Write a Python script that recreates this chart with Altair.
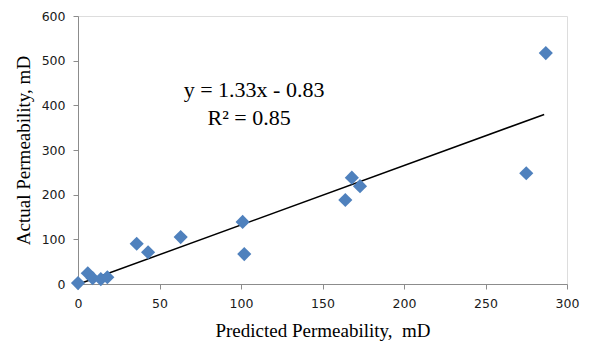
import altair as alt
import pandas as pd

predicted = [0, 6, 9, 14, 18, 36, 43, 63, 101, 102, 164, 168, 173, 275, 287]
actual = [2, 24, 13, 11, 15, 90, 71, 105, 139, 67, 188, 238, 219, 248, 517]

trend_x = [0, 286]
trend_y = [-0.83, 379.6]

label_text = ["y = 1.33x - 0.83", "R² = 0.85"]
label_x = [108, 105]
label_y = [434, 372]

pts = pd.DataFrame({"x": predicted, "y": actual})
trend = pd.DataFrame({"x": trend_x, "y": trend_y})
labels = pd.DataFrame({"x": label_x, "y": label_y, "t": label_text})

xs = alt.Scale(domain=[0, 300], nice=False)
ys = alt.Scale(domain=[0, 600], nice=False)

x_axis = alt.Axis(
    title="Predicted Permeability,\u00a0 mD", values=[0, 50, 100, 150, 200, 250, 300],
    grid=False, domainColor="#8c8c8c", tickColor="#8c8c8c", tickSize=5,
    labelFont="DejaVu Sans", labelFontSize=12.5, labelColor="#1a1a1a", labelPadding=8,
    labelFlush=False, labelOverlap=False,
    titleFont="Liberation Serif", titleFontSize=19, titleFontWeight="normal",
    titleColor="#000000", titlePadding=12,
)
y_axis = alt.Axis(
    title="Actual Permeability, mD", values=[0, 100, 200, 300, 400, 500, 600],
    grid=False, domainColor="#8c8c8c", tickColor="#8c8c8c", tickSize=5,
    labelFont="DejaVu Sans", labelFontSize=12.5, labelColor="#1a1a1a", labelPadding=8,
    labelFlush=False, labelOverlap=False,
    titleFont="Liberation Serif", titleFontSize=19, titleFontWeight="normal",
    titleColor="#000000", titlePadding=8,
)

points = alt.Chart(pts).mark_point(
    shape="diamond", filled=True, size=200, color="#4F81BD", opacity=1
).encode(
    x=alt.X("x:Q", scale=xs, axis=x_axis),
    y=alt.Y("y:Q", scale=ys, axis=y_axis),
)

line = alt.Chart(trend).mark_line(color="#000000", strokeWidth=1.5, clip=True).encode(
    x=alt.X("x:Q", scale=xs),
    y=alt.Y("y:Q", scale=ys),
)

text = alt.Chart(labels).mark_text(
    font="Liberation Serif", fontSize=22, color="#000000", align="center", baseline="middle"
).encode(
    x=alt.X("x:Q", scale=xs),
    y=alt.Y("y:Q", scale=ys),
    text="t:N",
)

chart = alt.layer(line, points, text).properties(
    width=489, height=268,
    autosize=alt.AutoSizeParams(type="none"),
    padding={"left": 70, "top": 8, "right": 16, "bottom": 60},
).configure_view(stroke=None).configure(background="#ffffff")

chart.save("out.html", embed_options={"renderer": "svg", "actions": False})
